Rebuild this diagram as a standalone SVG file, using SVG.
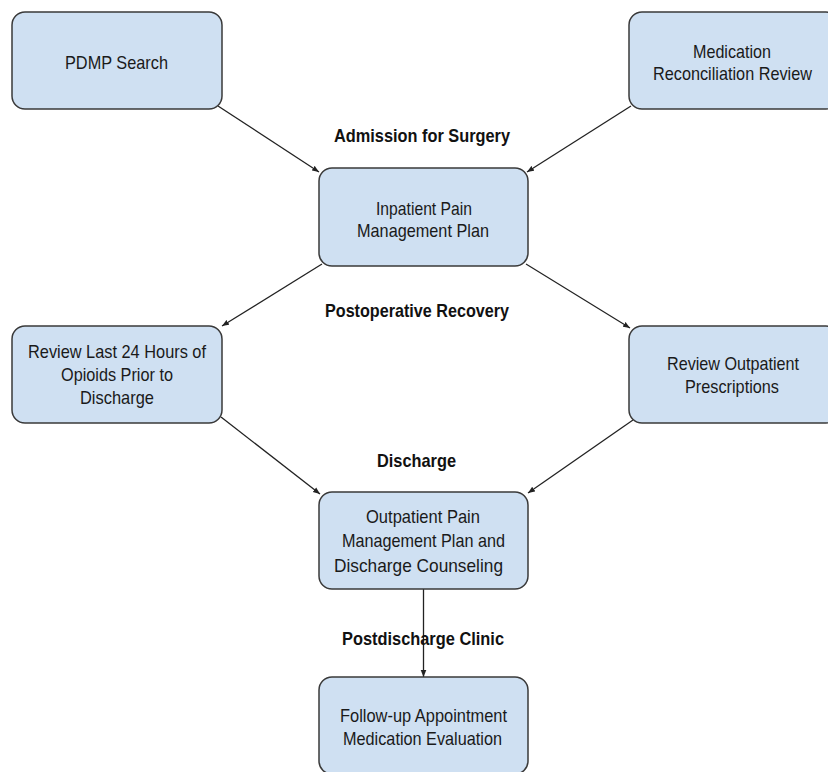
<svg xmlns="http://www.w3.org/2000/svg" width="828" height="772" viewBox="0 0 828 772">
<style>
.box{fill:#cfe0f2;stroke:#3a3a3a;stroke-width:1.5}
.t{font-family:"Liberation Sans",Arial,sans-serif;font-size:19px;fill:#1a1a1a;text-anchor:middle}
.b{font-family:"Liberation Sans",Arial,sans-serif;font-size:19px;font-weight:bold;fill:#111;text-anchor:middle}
.c{stroke:#222;stroke-width:1.3;fill:none;marker-end:url(#ah)}
</style>
<defs>
<marker id="ah" viewBox="0 0 10 10" refX="10" refY="5" markerWidth="7" markerHeight="7" markerUnits="userSpaceOnUse" orient="auto">
<path d="M0,1 L10,5 L0,9 z" fill="#222"/>
</marker>
</defs>
<rect width="828" height="772" fill="#ffffff"/>
<g id="connectors">
<line class="c" x1="218" y1="106" x2="319" y2="172"/>
<line class="c" x1="631" y1="106" x2="527" y2="172"/>
<line class="c" x1="322" y1="264" x2="222" y2="326"/>
<line class="c" x1="526" y1="264" x2="630" y2="328"/>
<line class="c" x1="221" y1="417" x2="320" y2="494"/>
<line class="c" x1="633" y1="420" x2="528" y2="493"/>
<line class="c" x1="423.5" y1="589" x2="423.5" y2="677"/>
</g>
<g id="labels">
<text class="b" x="422" y="142" textLength="176" lengthAdjust="spacingAndGlyphs">Admission for Surgery</text>
<text class="b" x="417" y="317" textLength="184" lengthAdjust="spacingAndGlyphs">Postoperative Recovery</text>
<text class="b" x="416.5" y="467" textLength="79" lengthAdjust="spacingAndGlyphs">Discharge</text>
<text class="b" x="423" y="645" textLength="162" lengthAdjust="spacingAndGlyphs">Postdischarge Clinic</text>
</g>
<g id="pdmp">
<rect class="box" x="12" y="12" width="210" height="97" rx="13"/>
<text class="t" x="116.5" y="69" textLength="103" lengthAdjust="spacingAndGlyphs">PDMP Search</text>
</g>
<g id="medrec">
<rect class="box" x="629" y="12" width="210" height="97" rx="13"/>
<text class="t" x="732" y="58" textLength="78" lengthAdjust="spacingAndGlyphs">Medication</text>
<text class="t" x="732.5" y="80" textLength="159" lengthAdjust="spacingAndGlyphs">Reconciliation Review</text>
</g>
<g id="inpatient">
<rect class="box" x="319" y="168" width="209" height="98" rx="13"/>
<text class="t" x="424" y="215" textLength="96" lengthAdjust="spacingAndGlyphs">Inpatient Pain</text>
<text class="t" x="423" y="237" textLength="132" lengthAdjust="spacingAndGlyphs">Management Plan</text>
</g>
<g id="review24">
<rect class="box" x="12" y="326" width="210" height="97" rx="13"/>
<text class="t" x="117" y="358" textLength="178" lengthAdjust="spacingAndGlyphs">Review Last 24 Hours of</text>
<text class="t" x="117" y="381" textLength="112" lengthAdjust="spacingAndGlyphs">Opioids Prior to</text>
<text class="t" x="117" y="404" textLength="74" lengthAdjust="spacingAndGlyphs">Discharge</text>
</g>
<g id="reviewout">
<rect class="box" x="629" y="326" width="210" height="97" rx="13"/>
<text class="t" x="733" y="370" textLength="132" lengthAdjust="spacingAndGlyphs">Review Outpatient</text>
<text class="t" x="732" y="393" textLength="94" lengthAdjust="spacingAndGlyphs">Prescriptions</text>
</g>
<g id="outpatient">
<rect class="box" x="319" y="492" width="209" height="97" rx="13"/>
<text class="t" x="423" y="523" textLength="114" lengthAdjust="spacingAndGlyphs">Outpatient Pain</text>
<text class="t" x="423.5" y="547" textLength="163" lengthAdjust="spacingAndGlyphs">Management Plan and</text>
<text class="t" x="418.5" y="572" textLength="169" lengthAdjust="spacingAndGlyphs">Discharge Counseling</text>
</g>
<g id="followup">
<rect class="box" x="319" y="677" width="209" height="97" rx="13"/>
<text class="t" x="423.5" y="722" textLength="167" lengthAdjust="spacingAndGlyphs">Follow-up Appointment</text>
<text class="t" x="422.5" y="745" textLength="159" lengthAdjust="spacingAndGlyphs">Medication Evaluation</text>
</g>
</svg>
